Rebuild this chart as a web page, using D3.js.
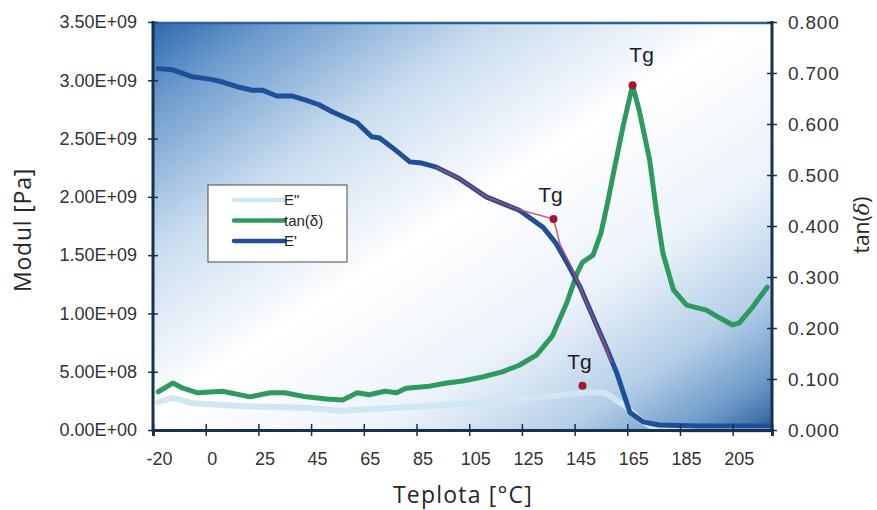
<!DOCTYPE html>
<html>
<head>
<meta charset="utf-8">
<script src="https://cdn.jsdelivr.net/npm/d3@7"></script>
<style>
body{margin:0;background:#fff;}
svg{display:block;font-family:"Liberation Sans",Arial,sans-serif;}
</style>
</head>
<body>
<script>
//category labels on the temperature axis
var tickTemps = [-20, 0, 25, 45, 65, 85, 105, 125, 145, 165, 185, 205];
var leftTicks = [0, 5e8, 1e9, 1.5e9, 2e9, 2.5e9, 3e9, 3.5e9];
var rightTicks = [0, 0.1, 0.2, 0.3, 0.4, 0.5, 0.6, 0.7, 0.8];

//E' (storage modulus) [Pa]
var ePrimeT = [-18, -12.5, -5, 2, 8, 16, 22, 26.5, 32, 38, 43, 48, 53, 58.5, 62.5, 68, 71, 76, 82.5, 87, 92.5,
  101, 111.5, 124, 133, 138, 143, 147, 152, 157, 161, 166, 171, 177, 192, 219.5];
var ePrimeV = [3.10e9, 3.09e9, 3.03e9, 3.01e9, 2.985e9, 2.94e9, 2.915e9, 2.915e9, 2.865e9, 2.865e9, 2.83e9, 2.79e9, 2.73e9, 2.675e9, 2.635e9, 2.515e9, 2.505e9, 2.42e9, 2.30e9, 2.29e9, 2.255e9,
  2.16e9, 2.0e9, 1.885e9, 1.74e9, 1.60e9, 1.40e9, 1.23e9, 0.97e9, 0.71e9, 0.49e9, 0.15e9, 0.07e9, 0.043e9, 0.034e9, 0.034e9];

//E'' (loss modulus) [Pa]
var eDoubleT = [-18, -12.5, -5, 16, 43, 56, 81, 106, 132, 151, 157, 164.5, 170, 175, 185, 219.5];
var eDoubleV = [2.4e8, 2.75e8, 2.3e8, 2.05e8, 1.9e8, 1.65e8, 1.95e8, 2.3e8, 2.8e8, 3.25e8, 3.15e8, 2.0e8, 0.85e8, 0.17e8, 0, 0];

//tan(delta)
var tanT = [-18, -12.5, -8.7, -3, 8, 21, 29.5, 35, 43, 51, 57, 62.5, 67, 73, 77.5, 81, 90, 96.5, 102.5, 110, 117.5, 124, 130.5, 136.5,
  142, 146, 148, 152, 155, 157.5, 160, 163.5, 167, 169.5, 173.5, 176, 178.5, 182.5, 187.5, 195, 200, 205, 207.5, 212.5, 218];
var tanV = [0.075, 0.092, 0.082, 0.073, 0.076, 0.065, 0.073, 0.073, 0.065, 0.061, 0.059, 0.073, 0.069, 0.076, 0.073, 0.082, 0.086, 0.092, 0.096, 0.104, 0.114, 0.127, 0.147, 0.184,
  0.249, 0.308, 0.329, 0.343, 0.386, 0.445, 0.51, 0.598, 0.676, 0.627, 0.529, 0.431, 0.347, 0.275, 0.245, 0.235, 0.22, 0.206, 0.21, 0.241, 0.28];

//tangent construction drawn over E'
var fitT = [92.5, 101, 111.5, 124, 137, 139.5, 144, 150, 156.5, 159];
var fitV = [2.255e9, 2.16e9, 2.0e9, 1.89e9, 1.81e9, 1.59e9, 1.39e9, 1.07e9, 0.73e9, 0.58e9];

//Tg markers
var tgT = [137, 148, 167];
var tgV = [1.81e9, 3.8e8, 0.676];
var tgAxis = ["left", "left", "right"];

var legendNames = ["E\"", "tan(\u03b4)", "E'"];
var legendColors = ["#cfe6f3", "#2e9a5f", "#1f4f98"];

window.onload = draw();

function draw() {
  var width = 877, height = 510;
  var plotL = 153, plotR = 772, plotT = 22, plotB = 430, step = 52.7;

  var svg = d3.select("body").append("svg")
    .attr("width", width)
    .attr("height", height);

  //category axis drawn as piecewise linear temperature scale
  var x = d3.scaleLinear()
    .domain(tickTemps.concat([219.8]))
    .range(tickTemps.map(function(d, i){ return plotL + step * i; }).concat([plotR]));
  var yL = d3.scaleLinear().domain([0, 3.5e9]).range([plotB, plotT]);
  var yR = d3.scaleLinear().domain([0, 0.8]).range([plotB, plotT]);

  //plot background gradient
  var defs = svg.append("defs");
  var grad = defs.append("linearGradient")
    .attr("id", "bg")
    .attr("x1", 0).attr("y1", 0).attr("x2", 1).attr("y2", 1);
  [[0, "#2b69ad"], [0.1, "#6c9bcd"], [0.28, "#c9dcef"], [0.48, "#ffffff"], [0.68, "#edf3fa"], [0.83, "#b6cfe8"], [0.93, "#6f9bca"], [1, "#2a5f9a"]]
    .forEach(function(s){
      grad.append("stop").attr("offset", s[0]).attr("stop-color", s[1]);
    });

  svg.append("rect")
    .attr("x", plotL).attr("y", plotT)
    .attr("width", plotR - plotL).attr("height", plotB - plotT)
    .attr("fill", "url(#bg)");

  svg.append("line")
    .attr("x1", plotL).attr("x2", plotR)
    .attr("y1", plotT + 1).attr("y2", plotT + 1)
    .attr("stroke", "#2f6096").attr("stroke-width", 2.5);

  //series lines
  function makeLine(ts, vs, y) {
    return d3.line()
      .x(function(d){ return x(ts[d]); })
      .y(function(d){ return y(vs[d]); })(d3.range(ts.length));
  }

  svg.append("path")
    .attr("d", makeLine(eDoubleT, eDoubleV, yL))
    .attr("fill", "none").attr("stroke", "#cfe6f3")
    .attr("stroke-width", 6).attr("stroke-linejoin", "round").attr("stroke-linecap", "round");

  svg.append("path")
    .attr("d", makeLine(tanT, tanV, yR))
    .attr("fill", "none").attr("stroke", "#2e9a5f")
    .attr("stroke-width", 5).attr("stroke-linejoin", "round").attr("stroke-linecap", "round");

  svg.append("path")
    .attr("d", makeLine(ePrimeT, ePrimeV, yL))
    .attr("fill", "none").attr("stroke", "#1f4f98")
    .attr("stroke-width", 5).attr("stroke-linejoin", "round").attr("stroke-linecap", "round");

  svg.append("path")
    .attr("d", makeLine(fitT, fitV, yL))
    .attr("fill", "none").attr("stroke", "#d0435c").attr("stroke-opacity", 0.85)
    .attr("stroke-width", 1.6).attr("stroke-linejoin", "round");

  //axes
  var axisColor = "#17314f";
  function fmtE(v) {
    if (v === 0) return "0.00E+00";
    var e = Math.floor(Math.log10(v) + 1e-9);
    var m = v / Math.pow(10, e);
    return m.toFixed(2) + "E+" + (e < 10 ? "0" : "") + e;
  }

  var gL = svg.append("g")
    .attr("transform", "translate(" + plotL + ",0)")
    .call(d3.axisLeft(yL).tickValues(leftTicks).tickFormat(fmtE).tickSizeOuter(0).tickSize(5).tickPadding(11));
  gL.selectAll(".tick line").attr("x1", 5);

  var gR = svg.append("g")
    .attr("transform", "translate(" + plotR + ",0)")
    .call(d3.axisRight(yR).tickValues(rightTicks).tickFormat(d3.format(".3f")).tickSizeOuter(0).tickSize(5).tickPadding(11));
  gR.selectAll(".tick line").attr("x1", -5);

  var gB = svg.append("g")
    .attr("transform", "translate(0," + plotB + ")")
    .call(d3.axisBottom(x).tickValues(tickTemps).tickFormat(function(d){ return String(d); }).tickSizeOuter(0).tickSize(6).tickPadding(16));
  gB.selectAll(".tick line").attr("y1", -6);
  gB.selectAll(".tick text").attr("dx", 6);

  [gL, gR, gB].forEach(function(g){
    g.select(".domain").attr("stroke", axisColor).attr("stroke-width", 3);
    g.selectAll(".tick line").attr("stroke", axisColor).attr("stroke-width", 1.5);
    g.selectAll(".tick text")
      .attr("fill", "#333")
      .style("font-size", "18px")
      .style("font-family", "'Liberation Sans', Arial, sans-serif");
  });
  gR.selectAll(".tick text").style("font-size", "19px").style("letter-spacing", "0.8px");
  gL.select(".domain").attr("d", "M0," + (plotB + 2) + "V" + (plotT - 1));
  gR.select(".domain").attr("d", "M0," + (plotB + 2) + "V" + (plotT - 1));

  //axis titles
  svg.append("text")
    .attr("x", 463).attr("y", 503)
    .attr("text-anchor", "middle")
    .style("font-family", "'Open Sans', sans-serif")
    .style("font-size", "23px").style("letter-spacing", "1.2px")
    .attr("fill", "#262626")
    .text("Teplota [\u00b0C]");

  svg.append("text")
    .attr("transform", "translate(31,230) rotate(-90)")
    .attr("text-anchor", "middle")
    .style("font-family", "'Open Sans', sans-serif")
    .style("font-size", "23px").style("letter-spacing", "0.8px")
    .attr("fill", "#262626")
    .text("Modul [Pa]");

  var rt = svg.append("text")
    .attr("transform", "translate(869,225) rotate(-90)")
    .attr("text-anchor", "middle")
    .style("font-family", "'Open Sans', sans-serif")
    .style("font-size", "21px")
    .attr("fill", "#262626");
  rt.append("tspan").text("tan(");
  rt.append("tspan").style("font-style", "italic").style("font-family", "'DejaVu Serif', serif").text("\u03b4");
  rt.append("tspan").text(")");

  //Tg markers
  var tg = svg.selectAll(".tg")
    .data(d3.range(tgT.length))
    .enter()
    .append("g")
    .attr("class", "tg")
    .attr("transform", function(i){
      var y = tgAxis[i] === "left" ? yL : yR;
      return "translate(" + x(tgT[i]) + "," + y(tgV[i]) + ")";
    });
  tg.append("circle").attr("r", 4).attr("fill", "#a3162e");
  tg.append("text")
    .attr("y", function(i){ return i === 2 ? -23 : -17; })
    .attr("x", function(i){ return i === 2 ? 9 : -3; })
    .attr("text-anchor", "middle")
    .style("font-size", "21px")
    .attr("fill", "#1e1e1e")
    .text("Tg");

  //legend
  var lg = svg.append("g").attr("transform", "translate(208,185)");
  lg.append("rect")
    .attr("width", 139).attr("height", 77)
    .attr("fill", "#fff").attr("stroke", "#4a4a4a").attr("stroke-width", 1);
  var items = lg.selectAll(".item")
    .data(legendNames)
    .enter()
    .append("g")
    .attr("transform", function(d, i){ return "translate(0," + (15 + i * 20.5) + ")"; });
  items.append("line")
    .attr("x1", 26).attr("x2", 76)
    .attr("stroke", function(d, i){ return legendColors[i]; })
    .attr("stroke-width", 4.5)
    .attr("stroke-linecap", "round");
  items.append("text")
    .attr("x", 76).attr("y", 5)
    .style("font-size", "15px")
    .attr("fill", "#222")
    .text(function(d){ return d; });
}
</script>
</body>
</html>
